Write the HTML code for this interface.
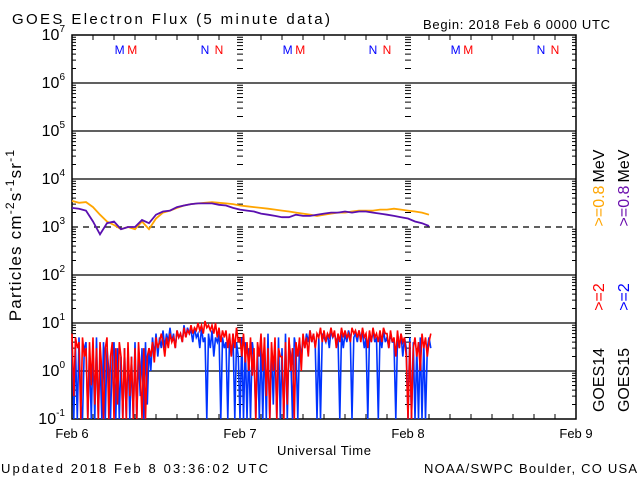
<!DOCTYPE html>
<html><head><meta charset="utf-8"><style>
body{margin:0;background:#fff;width:640px;height:480px;overflow:hidden}
text{font-family:"Liberation Sans","DejaVu Sans",sans-serif}
</style></head><body>
<svg id="c" width="640" height="480" xmlns="http://www.w3.org/2000/svg">
<text x="12" y="24" font-size="15" textLength="318" lengthAdjust="spacing">GOES Electron Flux (5 minute data)</text>
<text x="423" y="29" font-size="13" textLength="187" lengthAdjust="spacing">Begin: 2018 Feb 6 0000 UTC</text>
<text x="1" y="473" font-size="13" textLength="267" lengthAdjust="spacing">Updated 2018 Feb  8 03:36:02 UTC</text>
<text x="424" y="473" font-size="13" textLength="213" lengthAdjust="spacing">NOAA/SWPC Boulder, CO USA</text>
<text x="277" y="455" font-size="13" textLength="94" lengthAdjust="spacing">Universal Time</text>
<text transform="translate(21,235) rotate(-90)" font-size="17" letter-spacing="1.2" text-anchor="middle">Particles cm<tspan dy="-7" font-size="12">-2</tspan><tspan dy="7">s</tspan><tspan dy="-7" font-size="12">-1</tspan><tspan dy="7">sr</tspan><tspan dy="-7" font-size="12">-1</tspan></text>
<g font-size="16" text-anchor="middle">
<text transform="translate(604,380) rotate(-90)">GOES14</text>
<text transform="translate(604,297) rotate(-90)" fill="#f00">&gt;=2</text>
<text transform="translate(604,206) rotate(-90)" fill="#ffa500">&gt;=0.8</text>
<text transform="translate(604,166) rotate(-90)">MeV</text>
<text transform="translate(629,380) rotate(-90)">GOES15</text>
<text transform="translate(629,297) rotate(-90)" fill="#00f">&gt;=2</text>
<text transform="translate(629,206) rotate(-90)" fill="#6a0dad">&gt;=0.8</text>
<text transform="translate(629,166) rotate(-90)">MeV</text>
</g>
</svg>
<script>
const dayLabels=["Feb 6","Feb 7","Feb 8","Feb 9"];
const decadeExps=[-1,0,1,2,3,4,5,6,7];
const orange=[3500,3200,3300,2600,1800,1300,1100,900,1000,900,1300,900,1500,2000,2200,2500,2800,3000,3100,3200,3300,3200,3100,3000,2800,2700,2600,2500,2400,2300,2200,2100,2000,1900,1800,1700,1800,1900,2000,2000,2100,2200,2200,2200,2300,2300,2400,2300,2200,2100,2000,1800];
const purple=[2500,2400,2200,1300,700,1200,1300,900,1000,1000,1400,1200,1800,2100,2200,2600,2800,3000,3100,3100,3100,2900,2800,2500,2300,2200,2100,1900,1800,1700,1600,1600,1800,1700,1700,1800,1900,2000,2000,2100,2000,2100,2100,2000,1900,1800,1700,1600,1500,1300,1200,1050];
const red=[6,0.3,5,3, 4,0.1,5,2, 3,0.1,4,0.5, 5,0.2,3,0.1, 4,1,0.1,3, 5,0.1,2,4, 0.1,3,0.2,4, 2,0.1,3,0.1, 4,0.3,2,0.1, 3,0.1,4,1, 0.1,3,0.1,2, 3,2,4,1.5,
5,3,4,6, 4,2,5,3, 6,4,5,3, 7,5,6,4, 8,5,7,6, 9,6,8,7, 10,7,9,6, 11,8,9,7, 9,6,10,5, 8,4,7,5, 7,3,6,2, 6,3,8,4,
5,2,6,1.5, 4,1,5,0.8, 3,0.1,4,2, 6,1,5,0.3, 3,0.1,4,1, 5,0.1,3,2, 2,0.1,4,0.2, 5,1,3,0.1, 4,2,5,1, 6,3,5,2, 7,4,6,3, 6,5,8,4,
7,4,6,5, 8,5,7,3, 6,4,8,5, 7,5,6,4, 8,6,7,5, 7,4,8,5, 6,3,7,4, 8,5,6,4, 7,4,8,6, 6,3,7,4, 5,2,7,3, 6,4,5,2,
0.1,4,0.1,3, 5,2,4,1, 6,3,5,2, 4,6];
const blue=[4,0.1,3,0.1, 5,0.2,0.1,3, 4,0.1,2,0.1, 3,0.1,5,0.1, 2,0.1,4,0.1, 3,1,0.1,2, 4,0.1,3,0.1, 2,0.1,3,0.1, 3,0.1,2,0.1, 4,0.1,2,0.3, 3,0.1,4,0.2, 3,1,5,2,
6,2,5,3, 7,3,6,4, 8,4,6,3, 7,5,6,4, 9,5,8,6, 7,4,8,5, 6,3,8,4, 5,0.1,6,3, 7,2,5,4, 6,0.1,5,3, 4,0.1,5,2, 6,0.1,4,2,
0.1,5,0.1,4, 0.1,3,0.1,4, 2,0.1,3,0.1, 4,0.1,5,0.1, 6,0.1,3,0.2, 4,0.1,5,0.1, 3,0.1,6,0.1, 4,2,0.1,5, 3,0.1,4,2, 5,3,6,4, 7,4,6,3, 0.1,5,0.1,6,
5,4,6,3, 7,5,6,4, 5,0.1,6,3, 6,4,7,5, 0.1,5,6,4, 7,5,6,3, 5,0.1,6,4, 7,4,5,0.1, 6,3,7,4, 5,3,6,4, 4,0.1,5,3, 6,2,5,3,
0.1,5,0.1,4, 0.1,3,0.1,5, 0.1,4,0.1,3, 5,3];
const L=72,R=576,T=35,B=419;
const X=h=>L+(R-L)*h/72;
const Y=v=>{const lv=Math.log10(Math.max(v,0.1));return B-(B-T)*(lv+1)/8;};
const svg=document.getElementById('c');
const NS='http://www.w3.org/2000/svg';
function mk(tag,attrs,name){const e=document.createElementNS(NS,tag);for(const k in attrs)e.setAttribute(k,attrs[k]);


svg.appendChild(e);return e;}
decadeExps.forEach(p=>{
 if(p>-1&&p<7){const y=Y(Math.pow(10,p));
  mk('line',{x1:L,x2:R,y1:y,y2:y,stroke:'#000','stroke-width':1.3,'stroke-dasharray':p===3?'6,5':''},'gridline-1e'+p);}
 const t=mk('text',{x:L-7,y:Y(Math.pow(10,p))+5,'font-size':16,'text-anchor':'end'},'y-tick-label');
 t.textContent='10';
 const s=document.createElementNS(NS,'tspan');s.setAttribute('dy','-8');s.setAttribute('font-size','10');s.textContent=String(p);t.appendChild(s);
});
let d='';
for(let p=-1;p<7;p++)for(let m=2;m<10;m++){const y=Y(m*Math.pow(10,p));
 d+=`M${L} ${y}h4M${R} ${y}h-4`;
 [1,2].forEach(k=>{d+=`M${X(24*k)-3} ${y}h6`;});}
for(let h=3;h<72;h+=3){if(h%24===0)continue;d+=`M${X(h)} ${B}v-5M${X(h)} ${T}v5`;}
mk('path',{d:d,stroke:'#000','stroke-width':1,fill:'none'},'minor-ticks');
mk('rect',{x:L,y:T,width:R-L,height:B-T,fill:'none',stroke:'#000','stroke-width':1.5},'plot-frame');
dayLabels.forEach((s,i)=>{const t=mk('text',{x:X(24*i),y:438,'font-size':13,'text-anchor':'middle'},'x-tick-label');t.textContent=s;});
for(let dd=0;dd<3;dd++){[[6.8,'M','#00f'],[8.6,'M','#f00'],[19,'N','#00f'],[21,'N','#f00']].forEach(a=>{
 const t=mk('text',{x:X(24*dd+a[0]),y:54,'font-size':12,fill:a[2],'text-anchor':'middle'},'orbit-marker');t.textContent=a[1];});}
function series(arr,step,color,name,w){const pts=arr.map((v,i)=>X(i*step).toFixed(1)+','+Y(v).toFixed(1)).join(' ');
 mk('polyline',{points:pts,fill:'none',stroke:color,'stroke-width':w},name);}
series(blue,0.25,'#0033ff','goes15-2mev-line',1.6);
series(red,0.25,'#ff0000','goes14-2mev-line',1.6);
series(orange,1,'#ffa500','goes14-08mev-line',1.8);
series(purple,1,'#5a0fb0','goes15-08mev-line',1.8);
</script>
</body></html>
